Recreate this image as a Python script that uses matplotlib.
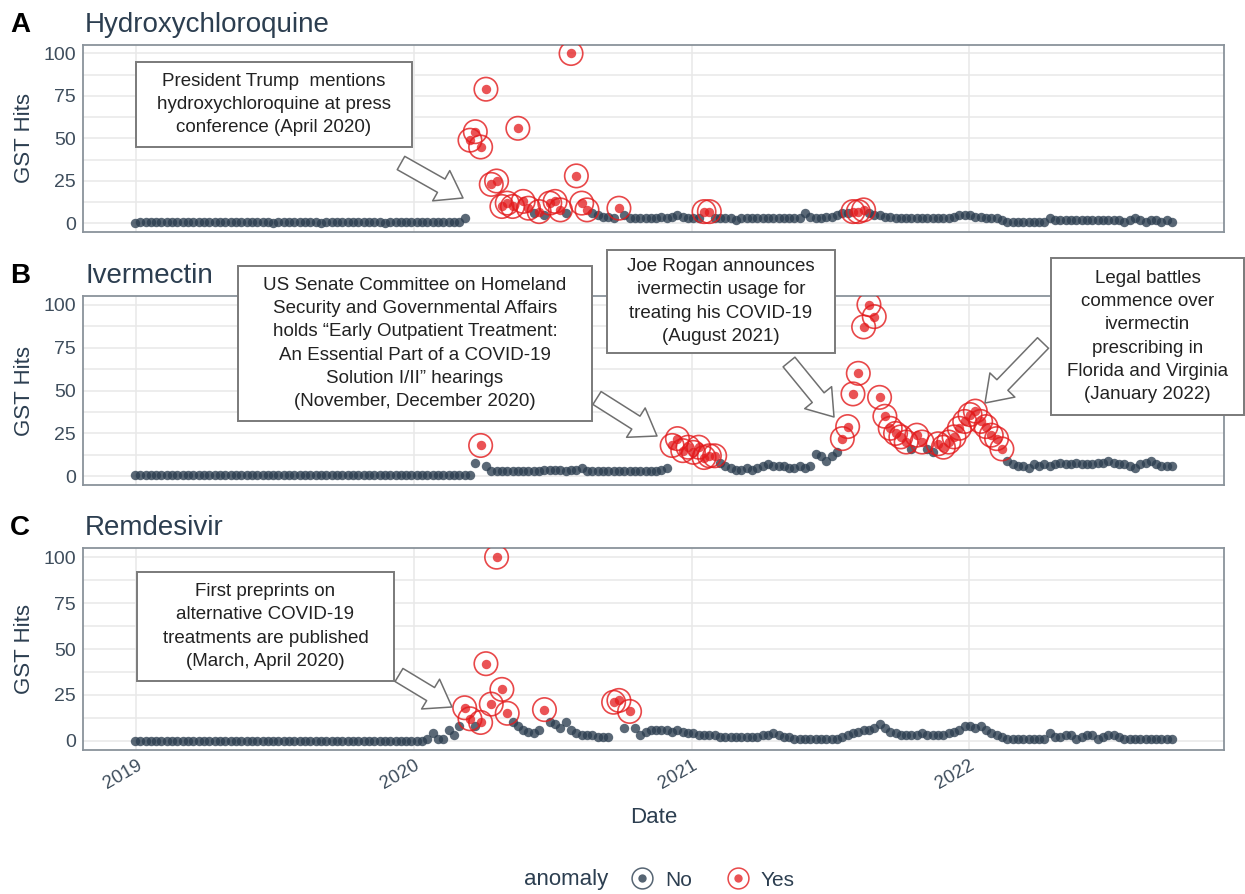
import pandas as pd
import matplotlib
matplotlib.use("Agg")
import matplotlib.pyplot as plt
import matplotlib.dates as mdates
from matplotlib.patches import Rectangle, FancyArrowPatch
from matplotlib.lines import Line2D

plt.rcParams["font.family"] = ["Liberation Sans", "DejaVu Sans"]

# figure size in pixels
W, H = 1245, 894

# weekly series, first week starts 2018-12-30
start_week = "2018-12-30"
year_ticks = ["2019", "2020", "2021", "2022"]
panel_letters = ["A", "B", "C"]
drug_names = ["Hydroxychloroquine", "Ivermectin", "Remdesivir"]

hcq_hits = [
    0, 1, 1, 1, 1, 1, 1, 1, 1, 1, 1, 1, 1, 1, 1, 1, 1, 1, 1, 1,
    1, 1, 1, 1, 1, 1, 0, 1, 1, 1, 1, 1, 1, 1, 1, 0, 1, 1, 1, 1,
    1, 1, 1, 1, 1, 1, 1, 0, 1, 1, 1, 1, 1, 1, 1, 1, 1, 1, 1, 1,
    1, 1, 3, 49, 54, 45, 79, 23, 25, 10, 12, 10, 56, 13, 9, 6, 7, 5, 12, 13,
    8, 6, 100, 28, 12, 8, 6, 5, 4, 4, 3, 9, 5, 3, 3, 3, 3, 3, 3, 4,
    3, 4, 5, 4, 3, 3, 3, 7, 7, 3, 3, 3, 3, 2, 3, 3, 3, 3, 3, 3,
    3, 3, 3, 3, 3, 3, 6, 4, 3, 3, 4, 4, 5, 6, 6, 7, 7, 8, 6, 5,
    5, 4, 4, 3, 3, 3, 3, 3, 3, 3, 3, 3, 3, 3, 4, 5, 5, 5, 4, 4,
    3, 3, 3, 2, 1, 1, 1, 1, 1, 1, 1, 1, 3, 2, 2, 2, 2, 2, 2, 2,
    2, 2, 2, 2, 2, 2, 1, 2, 3, 2, 1, 2, 2, 1, 2, 1,
]
hcq_anomaly_weeks = [63, 64, 65, 66, 67, 68, 69, 70, 71, 72, 73, 74, 76, 78, 79,
                     80, 82, 83, 84, 85, 91, 107, 108, 135, 136, 137]

ivm_hits = [
    1, 1, 1, 1, 1, 1, 1, 1, 1, 1, 1, 1, 1, 1, 1, 1, 1, 1, 1, 1,
    1, 1, 1, 1, 1, 1, 1, 1, 1, 1, 1, 1, 1, 1, 1, 1, 1, 1, 1, 1,
    1, 1, 1, 1, 1, 1, 1, 1, 1, 1, 1, 1, 1, 1, 1, 1, 1, 1, 1, 1,
    1, 1, 1, 1, 8, 18, 6, 3, 3, 3, 3, 3, 3, 3, 3, 3, 3, 4, 4, 4,
    4, 3, 4, 4, 5, 3, 3, 3, 3, 3, 3, 3, 3, 3, 3, 3, 3, 3, 3, 4,
    5, 18, 22, 15, 17, 14, 17, 11, 12, 12, 8, 6, 5, 4, 4, 5, 4, 5, 6, 7,
    6, 6, 6, 5, 5, 6, 5, 6, 13, 12, 9, 12, 14, 22, 29, 48, 60, 87, 100, 93,
    46, 35, 28, 25, 23, 20, 16, 24, 20, 16, 14, 19, 17, 20, 23, 28, 32, 36, 38, 32,
    29, 24, 22, 16, 9, 7, 6, 6, 5, 7, 6, 7, 6, 7, 8, 7, 7, 8, 7, 7,
    7, 8, 8, 9, 8, 7, 7, 6, 5, 7, 8, 9, 7, 6, 6, 6,
]
ivm_anomaly_weeks = [65, 101, 102, 103, 104, 105, 106, 107, 108, 109,
                     133, 134, 135, 136, 137, 138, 139, 140, 141, 142, 143, 144, 145,
                     147, 148, 151, 152, 153, 154, 155, 156, 157, 158, 159, 160,
                     161, 162, 163]

rem_hits = [
    0, 0, 0, 0, 0, 0, 0, 0, 0, 0, 0, 0, 0, 0, 0, 0, 0, 0, 0, 0,
    0, 0, 0, 0, 0, 0, 0, 0, 0, 0, 0, 0, 0, 0, 0, 0, 0, 0, 0, 0,
    0, 0, 0, 0, 0, 0, 0, 0, 0, 0, 0, 0, 0, 0, 0, 1, 4, 1, 1, 6,
    3, 8, 18, 12, 8, 10, 42, 20, 100, 28, 15, 10, 8, 6, 5, 4, 6, 17, 10, 9,
    7, 10, 6, 4, 3, 3, 3, 2, 2, 2, 21, 22, 7, 16, 7, 3, 5, 6, 6, 6,
    6, 5, 6, 5, 4, 4, 3, 3, 3, 3, 2, 2, 2, 2, 2, 2, 2, 2, 3, 3,
    4, 3, 2, 2, 1, 1, 1, 1, 1, 1, 1, 1, 1, 2, 3, 4, 5, 6, 6, 7,
    9, 7, 5, 4, 3, 3, 3, 3, 4, 3, 3, 3, 3, 4, 5, 6, 8, 8, 7, 8,
    6, 4, 3, 2, 1, 1, 1, 1, 1, 1, 1, 1, 4, 2, 2, 3, 3, 1, 2, 3,
    3, 1, 2, 3, 3, 2, 1, 1, 1, 1, 1, 1, 1, 1, 1, 1,
]
rem_anomaly_weeks = [62, 63, 65, 66, 67, 68, 69, 70, 77, 90, 91, 93]

# annotation boxes: text, box (left, top, right, bottom) px, arrow tail px, arrow tip px
notes = [
    ("President Trump  mentions\nhydroxychloroquine at press\nconference (April 2020)",
     (136, 62, 412, 147), (401, 163), (463, 198)),
    ("US Senate Committee on Homeland\nSecurity and Governmental Affairs\n"
     "holds \u201cEarly Outpatient Treatment:\nAn Essential Part of a COVID-19\n"
     "Solution I/II\u201d hearings\n(November, December 2020)",
     (238, 266, 592, 421), (597, 398), (657, 436)),
    ("Joe Rogan announces\nivermectin usage for\ntreating his COVID-19\n(August 2021)",
     (607, 250, 835, 353), (789, 362), (834, 417)),
    ("Legal battles\ncommence over\nivermectin\nprescribing in\nFlorida and Virginia\n(January 2022)",
     (1051, 258, 1244, 415), (1043, 343), (985, 403)),
    ("First preprints on\nalternative COVID-19\ntreatments are published\n(March, April 2020)",
     (137, 572, 394, 681), (399, 675), (452, 707)),
]

GRAY = "#2c3e50"
RED = "#e31a1c"
TXT = "#2c3e50"


def fx(x):
    return x / W


def fy(y):
    return 1 - y / H


def draw_panel(ax, dates, hits, anomaly_weeks, show_x):
    df = pd.DataFrame({"date": dates, "hits": hits})
    df["anomaly"] = False
    df.loc[anomaly_weeks, "anomaly"] = True
    no = df[~df["anomaly"]]
    yes = df[df["anomaly"]]
    ax.scatter(no["date"], no["hits"], s=46, color=GRAY, alpha=0.78, lw=0, zorder=3)
    ax.scatter(yes["date"], yes["hits"], s=46, color=RED, alpha=0.75, lw=0, zorder=4)
    ax.scatter(yes["date"], yes["hits"], s=285, facecolors="none", edgecolors=RED,
               alpha=0.8, lw=1.2, zorder=4)

    ax.set_ylim(-5, 105)
    ax.margins(x=0.05)
    ax.set_yticks([0, 25, 50, 75, 100])
    ax.set_yticks([12.5, 37.5, 62.5, 87.5], minor=True)
    ax.set_xticks(pd.to_datetime(year_ticks))
    ax.xaxis.set_major_formatter(mdates.DateFormatter("%Y"))
    ax.grid(which="both", axis="y", color="#e8e8e8", lw=1.1, zorder=0)
    ax.grid(which="major", axis="x", color="#e8e8e8", lw=1.1, zorder=0)
    ax.set_axisbelow(True)
    ax.tick_params(which="both", length=0)
    ax.tick_params(axis="y", labelsize=14, labelcolor="#3e4d5c", pad=5)
    for sp in ax.spines.values():
        sp.set_color("#8a939b")
        sp.set_linewidth(1.3)
    ax.set_ylabel("GST Hits", fontsize=16, color=TXT, labelpad=6)
    if show_x:
        ax.tick_params(axis="x", labelsize=13.5, labelcolor="#3e4d5c", pad=5)
        for lab in ax.get_xticklabels():
            lab.set_rotation(30)
            lab.set_ha("right")
            lab.set_rotation_mode("anchor")
        ax.set_xlabel("Date", fontsize=16, color=TXT, labelpad=10)
    else:
        ax.tick_params(axis="x", labelbottom=False)


def main():
    dates = pd.date_range(start_week, periods=len(hcq_hits), freq="7D")
    fig = plt.figure(figsize=(W / 100, H / 100), dpi=100)

    panels = [(45, 232), (296, 485), (548, 750)]
    series = [(hcq_hits, hcq_anomaly_weeks), (ivm_hits, ivm_anomaly_weeks),
              (rem_hits, rem_anomaly_weeks)]
    for i, ((top, bottom), (hits, anom)) in enumerate(zip(panels, series)):
        ax = fig.add_axes([fx(83), fy(bottom), fx(1224) - fx(83), (bottom - top) / H])
        draw_panel(ax, dates, hits, anom, show_x=(i == 2))
        fig.text(fx(10), fy(top - 20), panel_letters[i], fontsize=20, fontweight="bold",
                 color="black", va="center")
        fig.text(fx(85), fy(top - 20), drug_names[i], fontsize=20, color=TXT, va="center")

    # annotation boxes and hollow arrows
    for text, (x0, y0, x1, y1), tail, tip in notes:
        fig.patches.append(Rectangle((fx(x0), fy(y1)), fx(x1) - fx(x0), (y1 - y0) / H,
                                     transform=fig.transFigure, facecolor="white",
                                     edgecolor="#7a7a7a", lw=1.4, zorder=10))
        fig.text(fx((x0 + x1) / 2), fy((y0 + y1) / 2), text, ha="center", va="center",
                 fontsize=13.5, color="#222222", linespacing=1.48, zorder=11)
        arrow = FancyArrowPatch((fx(tail[0]), fy(tail[1])), (fx(tip[0]), fy(tip[1])),
                                transform=fig.transFigure,
                                arrowstyle="simple,head_length=18,head_width=25,tail_width=11",
                                mutation_scale=1, shrinkA=0, shrinkB=0,
                                facecolor="white", edgecolor="#6f6f6f", lw=1.1, zorder=10)
        fig.patches.append(arrow)

    # legend
    fig.text(fx(566), fy(880), "anomaly", fontsize=16, color=TXT, ha="center", va="center")
    h_no = (Line2D([], [], ls="", marker="o", ms=15, mfc="none", mec=GRAY, mew=1.1, alpha=0.8),
            Line2D([], [], ls="", marker="o", ms=6, mfc=GRAY, mec="none", alpha=0.8))
    h_yes = (Line2D([], [], ls="", marker="o", ms=15, mfc="none", mec=RED, mew=1.1, alpha=0.8),
             Line2D([], [], ls="", marker="o", ms=6, mfc=RED, mec="none", alpha=0.75))
    leg = fig.legend([h_no, h_yes], ["No", "Yes"], ncol=2, loc="center",
                     bbox_to_anchor=(fx(712), fy(880)), frameon=False, fontsize=15,
                     handlelength=1.2, handletextpad=0.5, columnspacing=1.6)
    for t in leg.get_texts():
        t.set_color(TXT)

    fig.savefig("out.png", dpi=100, facecolor="white")


if __name__ == "__main__":
    main()
